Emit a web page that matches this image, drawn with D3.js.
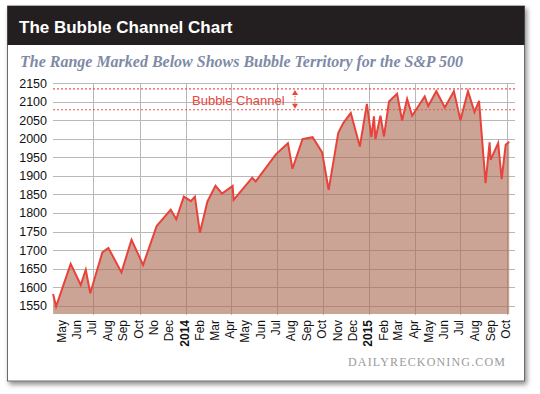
<!DOCTYPE html>
<html><head><meta charset="utf-8">
<script src="https://cdn.jsdelivr.net/npm/d3@7"></script>
<style>html,body{margin:0;padding:0;background:#fff;}svg{display:block;}</style>
</head><body>
<script>
// ---- data ----
const dates = ["2013-04-12","2013-04-18","2013-05-17","2013-06-06","2013-06-16","2013-06-25","2013-07-19","2013-07-31","2013-08-26","2013-09-15","2013-10-08","2013-11-04","2013-12-02","2013-12-13","2013-12-28","2014-01-11","2014-01-19","2014-01-29","2014-02-13","2014-03-01","2014-03-14","2014-04-04","2014-04-06","2014-05-13","2014-05-20","2014-06-29","2014-07-23","2014-08-01","2014-08-21","2014-09-10","2014-09-29","2014-10-12","2014-10-31","2014-11-10","2014-11-25","2014-12-13","2014-12-27","2015-01-05","2015-01-10","2015-01-13","2015-01-23","2015-01-30","2015-02-09","2015-02-25","2015-03-07","2015-03-17","2015-03-27","2015-04-21","2015-04-28","2015-05-14","2015-05-31","2015-06-18","2015-07-01","2015-07-16","2015-07-29","2015-08-07","2015-08-20","2015-08-28","2015-08-30","2015-09-14","2015-09-21","2015-09-29","2015-10-06"];
const values = [1582,1548,1663,1606,1647,1584,1694,1706,1640,1728,1660,1765,1809,1783,1844,1832,1844,1747,1831,1873,1852,1873,1835,1895,1885,1958,1988,1919,1999,2004,1963,1862,2015,2042,2069,1979,2094,2004,2060,1999,2062,2006,2100,2121,2049,2107,2062,2114,2088,2128,2084,2128,2050,2128,2072,2102,1880,1990,1943,1988,1891,1984,1992];
const monthTicks = ["2013-05","2013-06","2013-07","2013-08","2013-09","2013-10","2013-11","2013-12","2014-01","2014-02","2014-03","2014-04","2014-05","2014-06","2014-07","2014-08","2014-09","2014-10","2014-11","2014-12","2015-01","2015-02","2015-03","2015-04","2015-05","2015-06","2015-07","2015-08","2015-09","2015-10"];
const monthLabels = ["May","Jun","Jul","Aug","Sep","Oct","No","Dec","2014","Feb","Mar","Apr","May","Jun","Jul","Aug","Sep","Oct","Nov","Dec","2015","Feb","Mar","Apr","May","Jun","Jul","Aug","Sep","Oct"];
const yTicks = [1550,1600,1650,1700,1750,1800,1850,1900,1950,2000,2050,2100,2150];
const channel = [2078, 2134];
const title = "The Bubble Channel Chart";
const subtitle = "The Range Marked Below Shows Bubble Territory for the S&P 500";
const channelLabel = "Bubble Channel";
const credit = "DAILYRECKONING.COM";

// ---- drawing ----
const W = 540, H = 394;
const parse = d3.utcParse("%Y-%m-%d");
const parseM = d3.utcParse("%Y-%m");
const data = dates.map((d,i)=>({date:parse(d), value:values[i]}));

const svg = d3.select("body").append("svg").attr("width",W).attr("height",H);
const defs = svg.append("defs");
const f = defs.append("filter").attr("id","sh").attr("x","-5%").attr("y","-5%").attr("width","110%").attr("height","115%");
f.append("feDropShadow").attr("dx",2).attr("dy",3).attr("stdDeviation",2.5).attr("flood-color","#000").attr("flood-opacity",0.45);

// card
svg.append("rect").attr("x",7.5).attr("y",6).attr("width",517).attr("height",375)
  .attr("fill","#fff").attr("stroke","#6a6a6a").attr("stroke-width",1).attr("filter","url(#sh)");
svg.append("rect").attr("x",7.5).attr("y",6).attr("width",517).attr("height",39).attr("fill","#231f20");
svg.append("text").attr("x",19).attr("y",32.5).text(title)
  .attr("fill","#fff").attr("font-family","Liberation Sans, Arial, sans-serif").attr("font-weight","bold").attr("font-size",17);
svg.append("text").attr("x",20).attr("y",66.5).text(subtitle)
  .attr("fill","#7e8aa6").attr("font-family","Liberation Serif, serif").attr("font-weight","bold").attr("font-style","italic")
  .attr("font-size",16).attr("textLength",443).attr("lengthAdjust","spacingAndGlyphs");

const x = d3.scaleUtc().domain([parse("2013-07-01"), parse("2015-10-01")]).range([93.3, 506.7]);
const y = d3.scaleLinear().domain([1528, 2150]).range([314, 83]);
const gx0 = 53, gx1 = 515;

// horizontal grid
const gGrid = svg.append("g");
gGrid.selectAll("line.h").data(yTicks).join("line")
  .attr("x1",gx0).attr("x2",gx1).attr("y1",d=>Math.round(y(d))+0.5).attr("y2",d=>Math.round(y(d))+0.5)
  .attr("stroke","#b9b9b9").attr("stroke-width",1);
// vertical grid at quarter months
const quarterTicks = monthTicks.map(parseM).filter(d=>d.getUTCMonth()%3===0);
gGrid.selectAll("line.v").data(quarterTicks).join("line")
  .attr("x1",d=>Math.round(x(d))+0.5).attr("x2",d=>Math.round(x(d))+0.5).attr("y1",Math.round(y(2150))).attr("y2",315)
  .attr("stroke","#b9b9b9").attr("stroke-width",1);

// y labels
svg.append("g").selectAll("text").data(yTicks).join("text")
  .attr("x",47).attr("y",d=>y(d)).attr("dy","0.36em").attr("text-anchor","end")
  .attr("font-family","Liberation Sans, Arial, sans-serif").attr("font-size",12.5).attr("fill","#111")
  .text(d=>d);

// area + line
const area = d3.area().x(d=>x(d.date)).y0(y(1528)).y1(d=>y(d.value));
svg.append("path").datum(data).attr("d",area).attr("fill","rgb(170,104,80)").attr("fill-opacity",0.6);
const line = d3.line().x(d=>x(d.date)).y(d=>y(d.value));
svg.append("path").datum(data).attr("d",line).attr("fill","none").attr("stroke","#e8433a").attr("stroke-width",2).attr("stroke-linejoin","miter");

// bubble channel
svg.append("g").selectAll("line").data(channel).join("line")
  .attr("x1",gx0).attr("x2",gx1).attr("y1",d=>y(d)).attr("y2",d=>y(d))
  .attr("stroke","#e8574e").attr("stroke-width",1.2).attr("stroke-dasharray","2,2");
svg.append("text").attr("x",192).attr("y",104.5).text(channelLabel)
  .attr("fill","#e8463c").attr("font-family","Liberation Sans, Arial, sans-serif").attr("font-size",13);
const ax = 295, ayTop = y(channel[1]), ayBot = y(channel[0]);
svg.append("line").attr("x1",ax).attr("x2",ax).attr("y1",ayTop+4).attr("y2",ayBot-4)
  .attr("stroke","#e8574e").attr("stroke-width",1).attr("stroke-dasharray","1.5,1.5");
svg.append("path").attr("d",`M${ax},${ayTop+1}L${ax-3},${ayTop+6}L${ax+3},${ayTop+6}Z`).attr("fill","#e8463c");
svg.append("path").attr("d",`M${ax},${ayBot-1}L${ax-3},${ayBot-6}L${ax+3},${ayBot-6}Z`).attr("fill","#e8463c");

// x labels
svg.append("g").selectAll("text").data(monthTicks).join("text")
  .attr("transform",d=>`translate(${x(parseM(d))},320) rotate(-90)`)
  .attr("dy","0.25em").attr("text-anchor","end")
  .attr("font-family","Liberation Sans, Arial, sans-serif").attr("font-size",12).attr("fill","#111")
  .attr("font-weight",(d,i)=>/^\d{4}$/.test(monthLabels[i])?"bold":"normal")
  .text((d,i)=>monthLabels[i]);

// credit
svg.append("text").attr("x",505).attr("y",366).attr("text-anchor","end").text(credit)
  .attr("fill","#9a9a9a").attr("font-family","Liberation Serif, serif").attr("font-size",12)
  .attr("textLength",157).attr("lengthAdjust","spacing");
</script>
</body></html>
